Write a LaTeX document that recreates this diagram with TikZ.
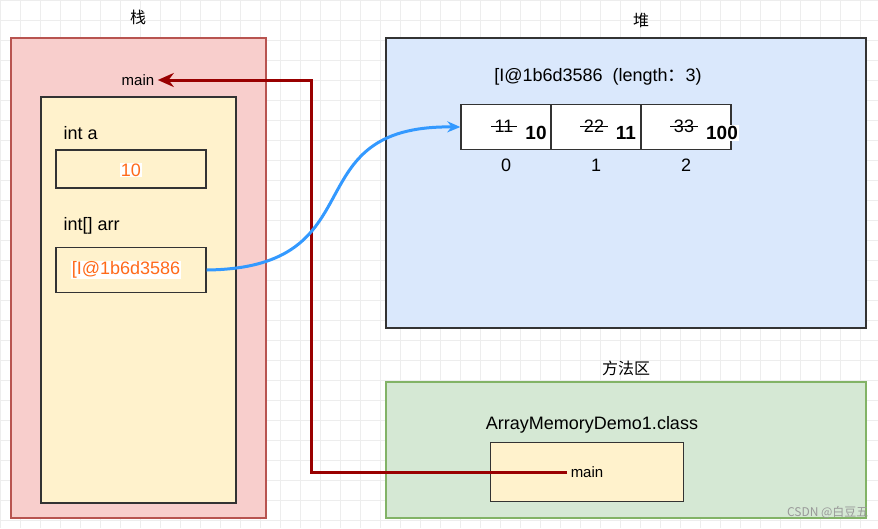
\documentclass[tikz,border=0pt]{standalone}
\usepackage{fontspec}
\setmainfont{Liberation Sans}
\newfontfamily\cjk{Noto Sans CJK SC}
\usepackage{xcolor}
\usetikzlibrary{arrows.meta}
\definecolor{stackfill}{HTML}{F8CECC}
\definecolor{stackline}{HTML}{B85450}
\definecolor{heapfill}{HTML}{DAE8FC}
\definecolor{methfill}{HTML}{D5E8D4}
\definecolor{methline}{HTML}{82B366}
\definecolor{framefill}{HTML}{FFF2CC}
\definecolor{valcol}{HTML}{FF6A1A}
\definecolor{refred}{HTML}{990000}
\definecolor{refblue}{HTML}{3399FF}
\begin{document}
\begin{tikzpicture}[x=1pt, y=-1pt,
          area/.style={draw, line width=1.2pt},
          frame/.style={draw=black!80, fill=framefill, line width=1.3pt},
          cell/.style={draw=black!80, fill=white, line width=1.3pt, minimum width=90pt, minimum height=45pt, inner sep=0pt},
          lbl/.style={font=\fontsize{18}{20}\selectfont},
          small/.style={font=\fontsize{15}{17}\selectfont},
          zh/.style={font=\cjk\fontsize{16}{18}\selectfont},
          val/.style={text=valcol, fill=white, inner sep=1pt, font=\fontsize{18}{20}\selectfont}
        ]
          \useasboundingbox (0,0) rectangle (878,528);
          % Grid background
          \draw[black!7, line width=0.8pt, step=20pt] (0,0) grid (878,528);

          % Stack
          \node[zh] (stacklbl) at (138,17) {栈};
          \draw[area, draw=stackline, fill=stackfill] (11,38) rectangle (266,518);
          \node[small] (smain) at (138,80) {main};
          \draw[frame] (41,97) rectangle (236,503);
          \node[lbl, anchor=west] (inta) at (60,133) {int a};
          \node[frame, minimum width=150pt, minimum height=38pt] (abox) at (131,169) {};
          \node[val] (aval) at (131,170) {10};
          \node[lbl, anchor=west] (intarr) at (60,226) {int[] arr};
          \node[frame, minimum width=150pt, minimum height=45pt] (arrbox) at (131,270) {};
          \node[val] (arrval) at (126,270) {[I@1b6d3586};

          % Heap
          \node[zh] (heaplbl) at (641,20) {堆};
          \draw[area, draw=black!80, fill=heapfill] (386,38) rectangle (866,328);
          \node[lbl] (addr) at (598,77) {[I@1b6d3586\ \ (length{\cjk ：}3)};
          \node[cell] (c0) at (506,127) {};
          \node[cell] (c1) at (596,127) {};
          \node[cell] (c2) at (686,127) {};
          \foreach \i/\old/\new/\dx in {0/11/10/0, 1/22/11/0, 2/33/100/6} {
            \node[lbl] (old\i) at ([xshift=-2pt,yshift=1pt]c\i.center) {\old};
            \draw[black, line width=1pt] (old\i.west) -- (old\i.east);
            \node[fill=white, inner sep=1pt, font=\bfseries\fontsize{19}{21}\selectfont] (new\i) at ([xshift=30pt+\dx pt,yshift=-6pt]c\i.center) {\new};
            \node[lbl] (idx\i) at ([yshift=-38pt]c\i.center) {\i};
          }

          % Method area
          \node[zh] (methlbl) at (626,368) {方法区};
          \draw[area, draw=methline, fill=methfill] (386,382) rectangle (866,518);
          \node[lbl] (cls) at (592,425) {ArrayMemoryDemo1.class};
          \node[frame, minimum width=193pt, minimum height=59pt] (mbox) at (587,472) {};
          \node[small] (mmain) at (587,472) {main};

          % References
          \draw[refred, line width=3pt, -{Stealth[length=16pt,width=14pt]}] (mmain.west) -| (311,80) -- (smain.east);
          \draw[refblue, line width=3pt, -{Stealth[length=13pt,width=11pt]}] (arrbox.east) .. controls (380,268) and (290,125) .. (c0.west);

          \node[font=\cjk\fontsize{12}{14}\selectfont, text=black!40, anchor=south east] (wm) at (872,522) {CSDN @白豆五};
        \end{tikzpicture}
\end{document}
